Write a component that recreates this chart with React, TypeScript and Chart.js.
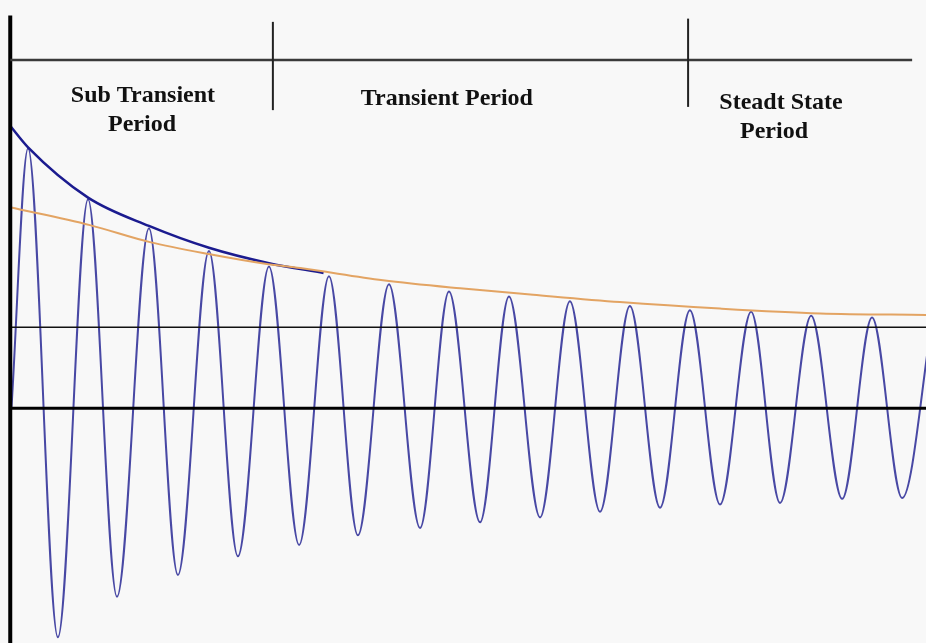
import React, { useEffect, useRef } from "react";
import { Chart, registerables } from "chart.js";

Chart.register(...registerables);

// Time axis in milliseconds (50 Hz: one cycle = 20 ms), current in per-unit of steady-state peak.
const X_MIN = -3.3;
const X_MAX = 303.8;
const Y_MIN = -2.9;
const Y_MAX = 5.04;

// Short-circuit current: successive extrema (peaks and troughs) of the waveform.
const waveStart = { t: 0.5, i: 0 };
const peakTimes = [6.0, 25.9, 46.1, 66.0, 85.9, 105.8, 125.7, 145.6, 165.5, 185.7, 205.6, 225.5, 245.8, 265.7, 285.9, 305.9];
const peakValues = [3.21, 2.58, 2.22, 1.94, 1.75, 1.63, 1.53, 1.44, 1.38, 1.32, 1.26, 1.21, 1.19, 1.14, 1.12, 1.1];
const troughTimes = [15.9, 35.5, 55.7, 75.6, 95.9, 115.4, 136.0, 155.9, 175.8, 195.7, 215.6, 235.5, 255.4, 276.0, 295.9];
const troughValues = [-2.83, -2.33, -2.06, -1.83, -1.69, -1.57, -1.48, -1.41, -1.35, -1.28, -1.23, -1.19, -1.17, -1.12, -1.11];

// Sub-transient envelope (dark blue)
const subTransientTimes = [0, 6.0, 25.9, 46.1, 66.0, 85.9, 104];
const subTransientValues = [3.49, 3.22, 2.6, 2.25, 1.98, 1.79, 1.67];

// Transient envelope (orange)
const transientTimes = [0, 26.5, 46.4, 66.3, 85.2, 96.2, 123.7, 149.3, 173.5, 202.3, 235.5, 268.7, 303.8];
const transientValues = [2.48, 2.26, 2.05, 1.9, 1.78, 1.73, 1.58, 1.48, 1.4, 1.31, 1.23, 1.17, 1.15];

// Steady-state peak level and zero axis
const steadyStateLevel = 1.0;
const zeroLevel = 0;

// Period boundaries (ms) and header line level
const periodBoundaries = [87.2, 224.9];
const boundaryTops = [4.77, 4.81];
const boundaryBottoms = [3.68, 3.72];
const headerLevel = 4.3;
const headerEnd = 299.2;
const axisTop = 4.85;

// Period labels
const labelTexts = [
  ["Sub Transient", "Period"],
  ["Transient Period"],
  ["Steadt State", "Period"],
];
const labelTimes = [
  [44.1, 43.8],
  [144.9],
  [255.7, 253.4],
];
const labelBaselines = [
  [3.78, 3.42],
  [3.74],
  [3.7, 3.33],
];

function buildWave() {
  const pts: { x: number; y: number }[] = [{ x: waveStart.t, y: waveStart.i }];
  const all: { x: number; y: number }[] = [];
  peakTimes.forEach((t, k) => all.push({ x: t, y: peakValues[k] }));
  troughTimes.forEach((t, k) => all.push({ x: t, y: troughValues[k] }));
  all.sort((a, b) => a.x - b.x);
  return pts.concat(all);
}

const zip = (xs: number[], ys: number[]) => xs.map((x, k) => ({ x, y: ys[k] }));

const decorPlugin = {
  id: "decor",
  beforeDraw(chart: any) {
    const ctx = chart.ctx;
    ctx.save();
    ctx.fillStyle = "#f8f8f8";
    ctx.fillRect(0, 0, chart.width, chart.height);
    ctx.restore();
  },
  afterDatasetsDraw(chart: any) {
    const ctx = chart.ctx;
    const xs = chart.scales.x;
    const ys = chart.scales.y;
    ctx.save();
    // vertical axis
    const ax = xs.getPixelForValue(0) + 0.3;
    ctx.strokeStyle = "#000";
    ctx.lineWidth = 4;
    ctx.beginPath();
    ctx.moveTo(ax, ys.getPixelForValue(axisTop));
    ctx.lineTo(ax, chart.height);
    ctx.stroke();
    // header line
    ctx.strokeStyle = "#3a3a3a";
    ctx.lineWidth = 2.5;
    ctx.beginPath();
    ctx.moveTo(ax, ys.getPixelForValue(headerLevel));
    ctx.lineTo(xs.getPixelForValue(headerEnd), ys.getPixelForValue(headerLevel));
    ctx.stroke();
    // boundaries
    ctx.strokeStyle = "#222";
    ctx.lineWidth = 2;
    periodBoundaries.forEach((t, k) => {
      const px = xs.getPixelForValue(t);
      ctx.beginPath();
      ctx.moveTo(px, ys.getPixelForValue(boundaryTops[k]));
      ctx.lineTo(px, ys.getPixelForValue(boundaryBottoms[k]));
      ctx.stroke();
    });
    // labels
    ctx.fillStyle = "#111";
    ctx.font = 'bold 24px "Liberation Serif", "Times New Roman", serif';
    ctx.textAlign = "center";
    ctx.textBaseline = "alphabetic";
    labelTexts.forEach((lines, k) => {
      lines.forEach((line, j) => {
        ctx.fillText(line, xs.getPixelForValue(labelTimes[k][j]), ys.getPixelForValue(labelBaselines[k][j]));
      });
    });
    ctx.restore();
  },
};

export default function App() {
  const ref = useRef<HTMLCanvasElement | null>(null);
  useEffect(() => {
    if (!ref.current) return;
    const chart = new Chart(ref.current, {
      type: "line",
      data: {
        datasets: [
          {
            label: "zero",
            data: [
              { x: 0, y: zeroLevel },
              { x: X_MAX, y: zeroLevel },
            ],
            borderColor: "#000",
            borderWidth: 3,
            pointRadius: 0,
            order: 0,
          },
          {
            label: "steady",
            data: [
              { x: 0, y: steadyStateLevel },
              { x: X_MAX, y: steadyStateLevel },
            ],
            borderColor: "#111",
            borderWidth: 1.5,
            pointRadius: 0,
            order: 1,
          },
          {
            label: "transient envelope",
            data: zip(transientTimes, transientValues),
            borderColor: "#e3a463",
            borderWidth: 2,
            pointRadius: 0,
            cubicInterpolationMode: "monotone",
            order: 2,
          },
          {
            label: "sub-transient envelope",
            data: zip(subTransientTimes, subTransientValues),
            borderColor: "#1b1b8f",
            borderWidth: 2.5,
            pointRadius: 0,
            cubicInterpolationMode: "monotone",
            order: 3,
          },
          {
            label: "current",
            data: buildWave(),
            borderColor: "#4848a4",
            borderWidth: 2,
            pointRadius: 0,
            cubicInterpolationMode: "monotone",
            order: 4,
          },
        ],
      },
      options: {
        animation: false,
        responsive: false,
        devicePixelRatio: 1,
        layout: { padding: 0 },
        plugins: { legend: { display: false }, tooltip: { enabled: false }, title: { display: false } },
        scales: {
          x: { type: "linear", min: X_MIN, max: X_MAX, display: false },
          y: { type: "linear", min: Y_MIN, max: Y_MAX, display: false },
        },
      },
      plugins: [decorPlugin],
    });
    return () => chart.destroy();
  }, []);
  return (
    <div style={{ position: "absolute", left: 0, top: 0, width: 926, height: 643 }}>
      <canvas ref={ref} width={926} height={643} style={{ display: "block" }} />
    </div>
  );
}
